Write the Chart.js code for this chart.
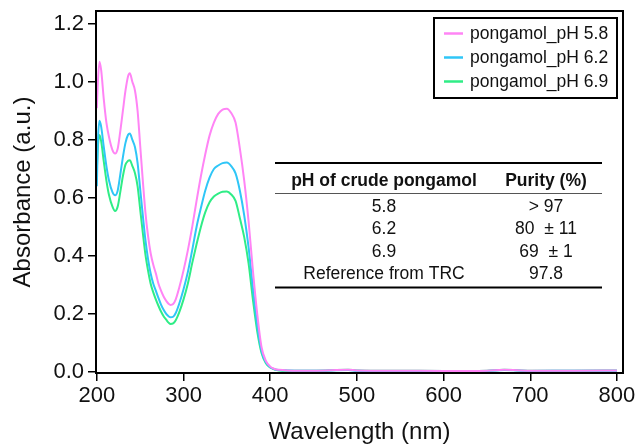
<!DOCTYPE html>
<html>
<head>
<meta charset="utf-8">
<script src="https://cdn.jsdelivr.net/npm/chart.js@4.4.0/dist/chart.umd.min.js"></script>
<style>
  html, body { margin: 0; padding: 0; background: #fff; }
  #wrap { width: 638px; height: 447px; }
</style>
</head>
<body>
<div id="wrap"><canvas id="chart-uv"></canvas></div>
<script>
const wavelengths = [200, 201, 203, 205, 208, 211, 214, 218, 221, 224, 227, 230, 233, 236, 238, 241, 244, 247, 250, 253,
    256, 259, 262, 265, 268, 271, 274, 277, 280, 283, 285, 288, 291, 295, 300, 305, 310, 315, 320, 325,
    330, 335, 340, 345, 350, 355, 360, 365, 370, 375, 380, 385, 390, 395, 400, 405, 410, 420, 450, 490,
    500, 550, 600, 650, 670, 700, 750, 800];
const absPH58 = [0.91, 0.99, 1.07, 1.04, 0.94, 0.86, 0.81, 0.765, 0.753, 0.77, 0.83, 0.90, 0.97, 1.02, 1.03, 1.00, 0.97, 0.90, 0.78, 0.66,
    0.55, 0.47, 0.41, 0.37, 0.34, 0.305, 0.28, 0.26, 0.245, 0.234, 0.231, 0.234, 0.25, 0.29, 0.35, 0.42, 0.50, 0.59, 0.675, 0.75,
    0.815, 0.86, 0.89, 0.905, 0.908, 0.893, 0.86, 0.77, 0.66, 0.52, 0.35, 0.20, 0.085, 0.038, 0.018, 0.01, 0.007, 0.005, 0.004, 0.007,
    0.005, 0.004, 0.003, 0.004, 0.007, 0.004, 0.004, 0.005];
const absPH62 = [0.64, 0.78, 0.866, 0.845, 0.775, 0.71, 0.66, 0.62, 0.609, 0.625, 0.68, 0.74, 0.79, 0.818, 0.822, 0.80, 0.775, 0.72, 0.63, 0.54,
    0.455, 0.39, 0.34, 0.305, 0.28, 0.255, 0.232, 0.214, 0.20, 0.191, 0.188, 0.19, 0.203, 0.235, 0.285, 0.345, 0.42, 0.50, 0.565, 0.625,
    0.67, 0.70, 0.712, 0.72, 0.722, 0.71, 0.685, 0.625, 0.54, 0.43, 0.29, 0.16, 0.072, 0.033, 0.016, 0.009, 0.006, 0.005, 0.004, 0.006,
    0.004, 0.003, 0.003, 0.003, 0.006, 0.003, 0.004, 0.004];
const absPH69 = [0.70, 0.77, 0.817, 0.795, 0.725, 0.66, 0.61, 0.57, 0.555, 0.57, 0.62, 0.675, 0.715, 0.728, 0.73, 0.71, 0.685, 0.64, 0.56, 0.48,
    0.405, 0.35, 0.305, 0.275, 0.25, 0.228, 0.208, 0.192, 0.18, 0.169, 0.165, 0.167, 0.178, 0.205, 0.25, 0.305, 0.375, 0.44, 0.50, 0.55,
    0.585, 0.605, 0.615, 0.621, 0.622, 0.612, 0.59, 0.53, 0.465, 0.375, 0.25, 0.14, 0.065, 0.03, 0.015, 0.008, 0.005, 0.004, 0.004, 0.007,
    0.005, 0.004, 0.003, 0.004, 0.007, 0.004, 0.004, 0.005];

const seriesLabels = ["pongamol_pH 5.8", "pongamol_pH 6.2", "pongamol_pH 6.9"];
const seriesColors = ['#ff84f5', '#2fc6f7', '#2fed86'];

const xTicks = [200, 300, 400, 500, 600, 700, 800];
const yTicks = [0.0, 0.2, 0.4, 0.6, 0.8, 1.0, 1.2];

const tableHead = ["pH of crude pongamol", "Purity (%)"];
const tableCol1 = ["5.8", "6.2", "6.9", "Reference from TRC"];
const tableCol2 = ["> 97", "80  \u00b1 11", "69  \u00b1 1", "97.8"];

const FONT = '"Liberation Sans", Arial, sans-serif';

function toPoints(vals) {
    return wavelengths.map((w, i) => ({ x: w, y: vals[i] }));
}

// frame, legend box and purity table
const extrasPlugin = {
    id: 'extras',
    afterDraw(chart) {
        const ctx = chart.ctx;
        const a = chart.chartArea;
        ctx.save();
        ctx.strokeStyle = '#000';
        ctx.lineWidth = 2;
        ctx.strokeRect(a.left, a.top, a.right - a.left, a.bottom - a.top);

        // legend
        ctx.lineWidth = 2;
        ctx.strokeRect(434, 18, 183, 80);
        ctx.font = '17.5px ' + FONT;
        ctx.textBaseline = 'middle';
        ctx.textAlign = 'left';
        chart.data.datasets.forEach((ds, i) => {
            const y = 33.5 + i * 24;
            ctx.strokeStyle = ds.borderColor;
            ctx.lineWidth = 2.5;
            ctx.beginPath();
            ctx.moveTo(444, y);
            ctx.lineTo(463, y);
            ctx.stroke();
            ctx.fillStyle = '#111';
            ctx.fillText(ds.label, 470, y + 1);
        });

        // table
        ctx.strokeStyle = '#000';
        ctx.lineWidth = 2;
        ctx.beginPath();
        ctx.moveTo(275, 163); ctx.lineTo(602, 163);
        ctx.moveTo(275, 287.5); ctx.lineTo(602, 287.5);
        ctx.stroke();
        ctx.strokeStyle = '#555';
        ctx.lineWidth = 1;
        ctx.beginPath();
        ctx.moveTo(275, 193.5); ctx.lineTo(602, 193.5);
        ctx.stroke();

        ctx.fillStyle = '#111';
        ctx.textAlign = 'center';
        ctx.font = 'bold 17.5px ' + FONT;
        ctx.fillText(tableHead[0], 384, 181);
        ctx.fillText(tableHead[1], 546, 181);
        ctx.font = '17.5px ' + FONT;
        tableCol1.forEach((t, i) => {
            const y = 207 + i * 22.5;
            ctx.fillText(t, 384, y);
            ctx.fillText(tableCol2[i], 546, y);
        });
        ctx.restore();
    }
};

const chartUvGet = document.getElementById("chart-uv");
const chartUvRender = new Chart(chartUvGet, {
    type: 'line',
    data: {
        datasets: [
            { label: seriesLabels[0], data: toPoints(absPH58), borderColor: seriesColors[0] },
            { label: seriesLabels[1], data: toPoints(absPH62), borderColor: seriesColors[1] },
            { label: seriesLabels[2], data: toPoints(absPH69), borderColor: seriesColors[2] }
        ]
    },
    options: {
        responsive: true,
        maintainAspectRatio: false,
        animation: false,
        layout: { padding: { left: 0, right: 15, top: 11, bottom: 0 } },
        elements: {
            point: { radius: 0 },
            line: { borderWidth: 2, cubicInterpolationMode: 'monotone', fill: false }
        },
        plugins: {
            legend: { display: false },
            tooltip: { enabled: false }
        },
        scales: {
            x: {
                type: 'linear',
                min: 199,
                max: 807,
                border: { color: '#000', width: 2 },
                grid: { drawOnChartArea: false, color: '#000', lineWidth: 1.5, tickLength: 8 },
                afterBuildTicks(scale) { scale.ticks = xTicks.map(v => ({ value: v })); },
                ticks: {
                    color: '#111',
                    padding: 2,
                    maxRotation: 0,
                    font: { family: FONT, size: 22 },
                    callback: v => String(v)
                },
                title: {
                    display: true,
                    text: 'Wavelength (nm)',
                    color: '#111',
                    padding: { top: 4, bottom: 0 },
                    font: { family: FONT, size: 24 }
                },
                afterFit(scale) {
                    scale.height = 74;
                    scale.paddingLeft = 0;
                    scale.paddingRight = 0;
                }
            },
            y: {
                min: -0.004,
                max: 1.245,
                border: { color: '#000', width: 2 },
                grid: { drawOnChartArea: false, color: '#000', lineWidth: 1.5, tickLength: 8 },
                afterBuildTicks(scale) { scale.ticks = yTicks.map(v => ({ value: v })); },
                ticks: {
                    color: '#111',
                    padding: 4,
                    font: { family: FONT, size: 22 },
                    callback: v => v.toFixed(1)
                },
                title: {
                    display: true,
                    text: 'Absorbance (a.u.)',
                    color: '#111',
                    padding: { top: 9, bottom: 2 },
                    font: { family: FONT, size: 24 }
                },
                afterFit(scale) {
                    scale.width = 96;
                    scale.paddingTop = 0;
                    scale.paddingBottom = 0;
                }
            }
        }
    },
    plugins: [extrasPlugin]
});
</script>
</body>
</html>
